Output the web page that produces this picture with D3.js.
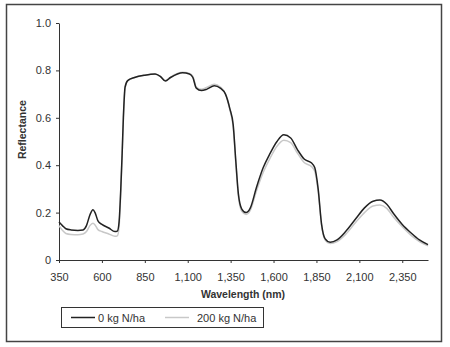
<!DOCTYPE html>
<html>
<head>
<meta charset="utf-8">
<script src="https://cdn.jsdelivr.net/npm/d3@7"></script>
<style>
  body { margin: 0; background: #fff; }
  svg text { font-family: "Liberation Sans", Arial, sans-serif; fill: #333; }
</style>
</head>
<body>
<div id="chart"></div>
<script>
// wavelength (nm) sample points
var wavelengths = [350, 370, 390, 420, 460, 490, 510, 530, 548, 560, 577, 600, 640, 676, 690, 700, 710, 718, 725, 735,
  750, 790, 850, 910, 940, 970, 1000, 1040, 1070, 1110, 1130, 1150, 1180, 1210, 1255, 1290, 1320, 1345, 1365, 1380,
  1395, 1415, 1440, 1465, 1500, 1540, 1580, 1620, 1660, 1700, 1740, 1780, 1820, 1840, 1860, 1880, 1900, 1930, 1970, 2020,
  2080, 2130, 2180, 2220, 2260, 2300, 2350, 2400, 2450, 2500];

// reflectance, 0 kg N/ha
var refl0 = [0.160, 0.145, 0.132, 0.127, 0.125, 0.127, 0.145, 0.190, 0.212, 0.200, 0.165, 0.150, 0.135, 0.120, 0.122, 0.160, 0.300, 0.450, 0.600, 0.730,
  0.757, 0.770, 0.780, 0.785, 0.775, 0.755, 0.770, 0.785, 0.790, 0.785, 0.770, 0.725, 0.715, 0.720, 0.735, 0.725, 0.700, 0.640, 0.570, 0.420,
  0.280, 0.215, 0.200, 0.220, 0.305, 0.390, 0.450, 0.500, 0.528, 0.515, 0.465, 0.425, 0.410, 0.390, 0.300, 0.150, 0.090, 0.075, 0.085, 0.120,
  0.175, 0.220, 0.248, 0.253, 0.235, 0.195, 0.150, 0.115, 0.085, 0.065];

// reflectance, 200 kg N/ha
var refl200 = [0.145, 0.125, 0.112, 0.108, 0.107, 0.110, 0.120, 0.145, 0.155, 0.148, 0.128, 0.120, 0.110, 0.100, 0.102, 0.140, 0.290, 0.445, 0.595, 0.725,
  0.755, 0.770, 0.780, 0.785, 0.775, 0.757, 0.772, 0.787, 0.792, 0.787, 0.775, 0.730, 0.720, 0.728, 0.742, 0.730, 0.700, 0.635, 0.560, 0.410,
  0.270, 0.205, 0.192, 0.210, 0.290, 0.370, 0.430, 0.480, 0.505, 0.495, 0.450, 0.410, 0.395, 0.375, 0.290, 0.145, 0.085, 0.070, 0.078, 0.108,
  0.160, 0.200, 0.228, 0.232, 0.218, 0.180, 0.140, 0.105, 0.078, 0.060];

var xTicks = [350, 600, 850, 1100, 1350, 1600, 1850, 2100, 2350];
var yTicks = [0, 0.2, 0.4, 0.6, 0.8, 1.0];
var seriesNames = ["0 kg N/ha", "200 kg N/ha"];
var seriesColors = ["#222", "#c8c8c8"];

var width = 450, height = 347;
var margin = { left: 59, right: 22, top: 23, bottom: 87 };

var svg = d3.select("#chart").append("svg")
  .attr("width", width)
  .attr("height", height);

// outer frame
svg.append("rect")
  .attr("x", 6.5).attr("y", 4.5)
  .attr("width", 435).attr("height", 337)
  .attr("fill", "none")
  .attr("stroke", "#444")
  .attr("stroke-width", 1.5);

var x = d3.scaleLinear().domain([350, 2500]).range([margin.left, width - margin.right]);
var y = d3.scaleLinear().domain([0, 1]).range([height - margin.bottom, margin.top]);

var xAxis = svg.append("g")
  .attr("transform", "translate(0," + y(0) + ")")
  .call(d3.axisBottom(x).tickValues(xTicks).tickSize(3).tickSizeOuter(0)
    .tickFormat(d3.format(",")));

var yAxis = svg.append("g")
  .attr("transform", "translate(" + x(350) + ",0)")
  .call(d3.axisLeft(y).tickValues(yTicks).tickSize(3).tickSizeOuter(0)
    .tickFormat(function (d) { return d === 0 ? "0" : d3.format(".1f")(d); }));

[xAxis, yAxis].forEach(function (ax) {
  ax.selectAll("path, line").attr("stroke", "#333");
  ax.selectAll("text").attr("font-size", 11).attr("fill", "#444")
    .style("font-family", "'Liberation Sans', Arial, sans-serif");
});
xAxis.selectAll("text").attr("dy", "1.35em");
yAxis.selectAll("text").attr("dx", "-2");

// axis titles
svg.append("text")
  .attr("x", 243).attr("y", 298)
  .attr("text-anchor", "middle")
  .attr("font-size", 10.5).attr("font-weight", "bold")
  .attr("fill", "#222")
  .text("Wavelength (nm)");

svg.append("text")
  .attr("transform", "translate(26," + y(0.55) + ") rotate(-90)")
  .attr("text-anchor", "middle")
  .attr("font-size", 10.5).attr("font-weight", "bold")
  .attr("fill", "#222")
  .text("Reflectance");

// the two spectra, light one first so the dark one sits on top
var line = d3.line()
  .x(function (d) { return x(d[0]); })
  .y(function (d) { return y(d[1]); })
  .curve(d3.curveMonotoneX);

[refl200, refl0].forEach(function (vals, k) {
  var idx = k === 0 ? 1 : 0;
  svg.append("path")
    .datum(wavelengths.map(function (w, i) { return [w, vals[i]]; }))
    .attr("fill", "none")
    .attr("stroke", seriesColors[idx])
    .attr("stroke-width", 1.5)
    .attr("d", line);
});

// legend
var legend = svg.append("g").attr("transform", "translate(61,307)");
legend.append("rect")
  .attr("x", 0.5).attr("y", 0.5)
  .attr("width", 202).attr("height", 20)
  .attr("fill", "#fff")
  .attr("stroke", "#333");

var legendX = [10, 104];
seriesNames.forEach(function (name, i) {
  var g = legend.append("g").attr("transform", "translate(" + legendX[i] + ",10.5)");
  g.append("line")
    .attr("x1", 0).attr("x2", 24)
    .attr("stroke", seriesColors[i])
    .attr("stroke-width", 1.5);
  g.append("text")
    .attr("x", i === 0 ? 27 : 32).attr("y", 4)
    .attr("font-size", 11).attr("fill", "#444")
    .text(name);
});
</script>
</body>
</html>
